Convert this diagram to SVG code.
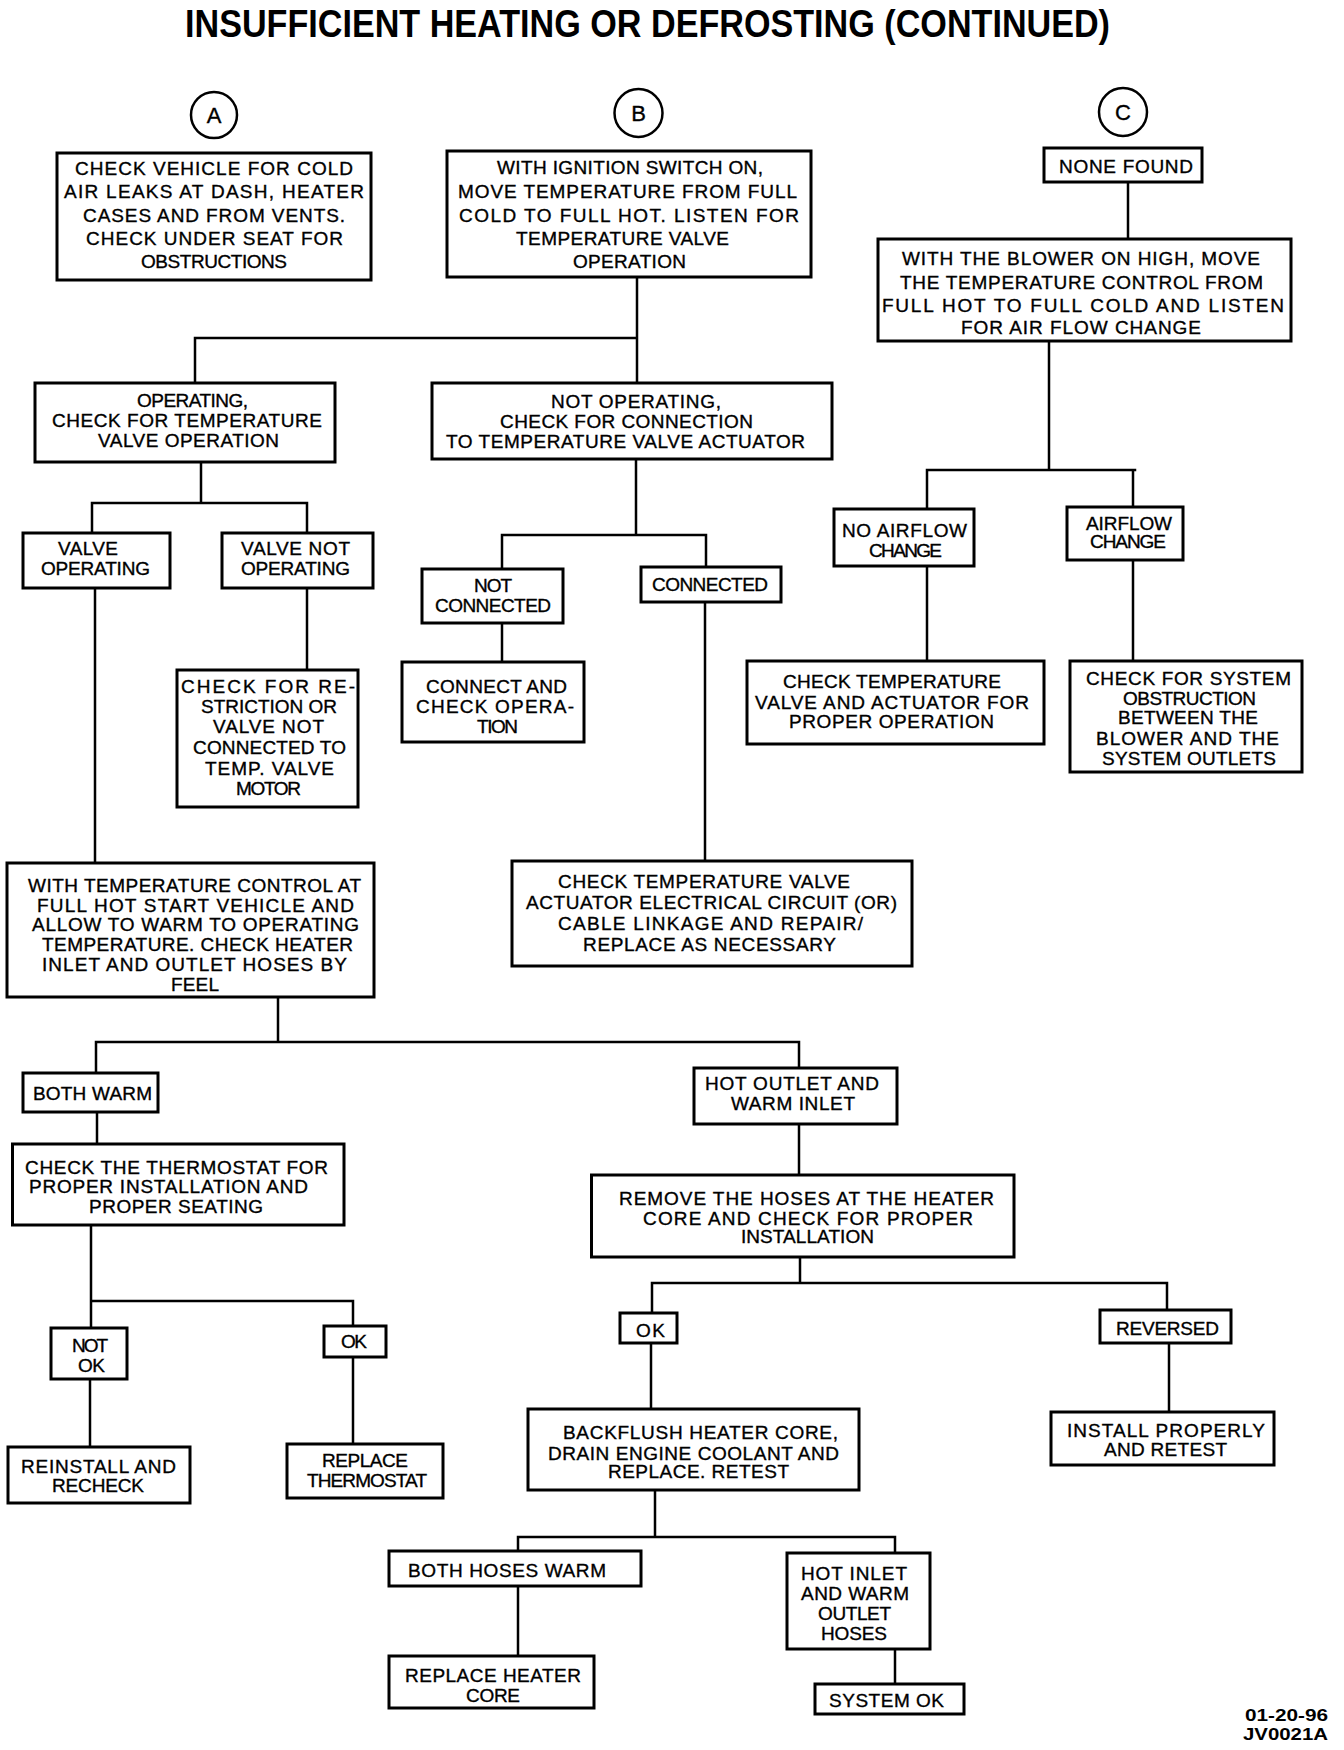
<svg xmlns="http://www.w3.org/2000/svg" width="1344" height="1750" viewBox="0 0 1344 1750">
<style>
.b{fill:#fff;stroke:#000;stroke-width:3}
.c{fill:#fff;stroke:#000;stroke-width:2.5}
.k{fill:none;stroke:#000;stroke-width:2.5;stroke-linecap:square}
text{font-family:"Liberation Sans",Arial,sans-serif;font-size:19px;fill:#000;stroke:#000;stroke-width:0.35;text-anchor:middle}
.ttl{font-weight:bold;font-size:38px;stroke:none}
.ft{font-weight:bold;font-size:16px;text-anchor:start;stroke:none}
.lt{font-size:22px}
</style>
<rect width="1344" height="1750" fill="#fff"/>
<text class="ttl" x="647.5" y="37" textLength="925" lengthAdjust="spacingAndGlyphs">INSUFFICIENT HEATING OR DEFROSTING (CONTINUED)</text>

<g id="connectors">
<path class="k" d="M637 277V383M195 338H637M195 338V383"/>
<path class="k" d="M1128 182V239"/>
<path class="k" d="M1049 341V470M927 470H1135M927 470V509M1133 470V507"/>
<path class="k" d="M201 462V503M92 503H307M92 503V533M307 503V533"/>
<path class="k" d="M307 588V670"/>
<path class="k" d="M95 588V863"/>
<path class="k" d="M636 459V535M502 535H706M502 535V569M706 535V567"/>
<path class="k" d="M502 623V662"/>
<path class="k" d="M705 602V861"/>
<path class="k" d="M927 566V661M1133 560V661"/>
<path class="k" d="M278 997V1042M96 1042H799M96 1042V1073M799 1042V1068"/>
<path class="k" d="M97 1112V1144"/>
<path class="k" d="M91 1225V1328M91 1301H353M353 1301V1326"/>
<path class="k" d="M90 1379V1447"/>
<path class="k" d="M353 1357V1444"/>
<path class="k" d="M799 1124V1175"/>
<path class="k" d="M800 1257V1283M652 1283H1167M652 1283V1313M1167 1283V1310"/>
<path class="k" d="M651 1343V1409"/>
<path class="k" d="M1169 1343V1412"/>
<path class="k" d="M655 1490V1537M518 1537H895M518 1537V1551M895 1537V1553"/>
<path class="k" d="M518 1586V1656"/>
<path class="k" d="M895 1649V1684"/>
</g>

<g id="circleA"><circle class="c" cx="214" cy="115" r="23"/><text class="lt" x="214" y="123">A</text></g>
<g id="circleB"><circle class="c" cx="638.5" cy="113" r="24"/><text class="lt" x="638.5" y="121">B</text></g>
<g id="circleC"><circle class="c" cx="1123" cy="112" r="24"/><text class="lt" x="1123" y="120">C</text></g>

<g id="boxA"><rect class="b" x="57" y="153" width="314" height="127"/>
<text x="214" y="175" textLength="278">CHECK VEHICLE FOR COLD</text>
<text x="214" y="198" textLength="300">AIR LEAKS AT DASH, HEATER</text>
<text x="214" y="222" textLength="262">CASES AND FROM VENTS.</text>
<text x="214.5" y="245" textLength="257">CHECK UNDER SEAT FOR</text>
<text x="214" y="268" textLength="146">OBSTRUCTIONS</text></g>

<g id="boxB"><rect class="b" x="447" y="151" width="364" height="126"/>
<text x="630" y="174" textLength="266">WITH IGNITION SWITCH ON,</text>
<text x="627.5" y="198" textLength="339">MOVE TEMPERATURE FROM FULL</text>
<text x="629" y="222" textLength="340">COLD TO FULL HOT. LISTEN FOR</text>
<text x="622.5" y="245" textLength="213">TEMPERATURE VALVE</text>
<text x="629.5" y="268" textLength="113">OPERATION</text></g>

<g id="noneFound"><rect class="b" x="1044" y="148" width="158" height="34"/>
<text x="1126" y="173" textLength="134">NONE FOUND</text></g>

<g id="boxC"><rect class="b" x="878" y="239" width="413" height="102"/>
<text x="1081" y="265" textLength="358">WITH THE BLOWER ON HIGH, MOVE</text>
<text x="1081.5" y="289" textLength="363">THE TEMPERATURE CONTROL FROM</text>
<text x="1083" y="312" textLength="402">FULL HOT TO FULL COLD AND LISTEN</text>
<text x="1081" y="334" textLength="240">FOR AIR FLOW CHANGE</text></g>

<g id="operating"><rect class="b" x="35" y="383" width="300" height="79"/>
<text x="192.5" y="407" textLength="111">OPERATING,</text>
<text x="187" y="427" textLength="270">CHECK FOR TEMPERATURE</text>
<text x="188.5" y="447" textLength="181">VALVE OPERATION</text></g>

<g id="notOperating"><rect class="b" x="432" y="383" width="400" height="76"/>
<text x="636" y="408" textLength="170">NOT OPERATING,</text>
<text x="626.5" y="428" textLength="253">CHECK FOR CONNECTION</text>
<text x="625.5" y="448" textLength="359">TO TEMPERATURE VALVE ACTUATOR</text></g>

<g id="valveOperating"><rect class="b" x="23" y="533" width="147" height="55"/>
<text x="88" y="555" textLength="60">VALVE</text>
<text x="95.5" y="575" textLength="109">OPERATING</text></g>

<g id="valveNotOperating"><rect class="b" x="222" y="533" width="151" height="55"/>
<text x="295.5" y="555" textLength="109">VALVE NOT</text>
<text x="295.5" y="575" textLength="109">OPERATING</text></g>

<g id="checkRestriction"><rect class="b" x="177" y="670" width="181" height="137"/>
<text x="268" y="693" textLength="174">CHECK FOR RE-</text>
<text x="269" y="713" textLength="136">STRICTION OR</text>
<text x="268.5" y="733" textLength="111">VALVE NOT</text>
<text x="269.5" y="754" textLength="153">CONNECTED TO</text>
<text x="269.5" y="775" textLength="129">TEMP. VALVE</text>
<text x="268.5" y="795" textLength="65">MOTOR</text></g>

<g id="notConnected"><rect class="b" x="422" y="569" width="141" height="54"/>
<text x="493" y="592" textLength="38">NOT</text>
<text x="493" y="612" textLength="116">CONNECTED</text></g>

<g id="connected"><rect class="b" x="641" y="567" width="140" height="35"/>
<text x="710" y="591" textLength="116">CONNECTED</text></g>

<g id="connectCheck"><rect class="b" x="402" y="662" width="182" height="80"/>
<text x="496.5" y="693" textLength="141">CONNECT AND</text>
<text x="495" y="713" textLength="158">CHECK OPERA-</text>
<text x="497.5" y="733" textLength="41">TION</text></g>

<g id="noAirflow"><rect class="b" x="834" y="509" width="140" height="57"/>
<text x="904.5" y="537" textLength="125">NO AIRFLOW</text>
<text x="905.5" y="557" textLength="73">CHANGE</text></g>

<g id="airflow"><rect class="b" x="1067" y="507" width="116" height="53"/>
<text x="1129" y="530" textLength="86">AIRFLOW</text>
<text x="1128" y="548" textLength="76">CHANGE</text></g>

<g id="checkValveActuator"><rect class="b" x="747" y="661" width="297" height="83"/>
<text x="892" y="688" textLength="218">CHECK TEMPERATURE</text>
<text x="892" y="709" textLength="274">VALVE AND ACTUATOR FOR</text>
<text x="891.5" y="728" textLength="205">PROPER OPERATION</text></g>

<g id="checkSystem"><rect class="b" x="1070" y="661" width="232" height="111"/>
<text x="1188.5" y="685" textLength="205">CHECK FOR SYSTEM</text>
<text x="1189.5" y="705" textLength="133">OBSTRUCTION</text>
<text x="1188" y="724" textLength="140">BETWEEN THE</text>
<text x="1187.5" y="745" textLength="183">BLOWER AND THE</text>
<text x="1189" y="765" textLength="174">SYSTEM OUTLETS</text></g>

<g id="withTempControl"><rect class="b" x="7" y="863" width="367" height="134"/>
<text x="194.5" y="892" textLength="333">WITH TEMPERATURE CONTROL AT</text>
<text x="195.5" y="912" textLength="317">FULL HOT START VEHICLE AND</text>
<text x="195.5" y="931" textLength="327">ALLOW TO WARM TO OPERATING</text>
<text x="197.5" y="951" textLength="311">TEMPERATURE. CHECK HEATER</text>
<text x="194.5" y="971" textLength="305">INLET AND OUTLET HOSES BY</text>
<text x="195" y="991" textLength="48">FEEL</text></g>

<g id="checkCircuit"><rect class="b" x="512" y="861" width="400" height="105"/>
<text x="704" y="888" textLength="292">CHECK TEMPERATURE VALVE</text>
<text x="711.5" y="909" textLength="371">ACTUATOR ELECTRICAL CIRCUIT (OR)</text>
<text x="710.5" y="930" textLength="305">CABLE LINKAGE AND REPAIR/</text>
<text x="709.5" y="951" textLength="253">REPLACE AS NECESSARY</text></g>

<g id="bothWarm"><rect class="b" x="23" y="1073" width="135" height="39"/>
<text x="92.5" y="1100" textLength="119">BOTH WARM</text></g>

<g id="hotOutlet"><rect class="b" x="694" y="1068" width="203" height="56"/>
<text x="792" y="1090" textLength="174">HOT OUTLET AND</text>
<text x="793" y="1110" textLength="124">WARM INLET</text></g>

<g id="checkThermostat"><rect class="b" x="12.5" y="1144" width="331.5" height="81"/>
<text x="176.5" y="1174" textLength="303">CHECK THE THERMOSTAT FOR</text>
<text x="168.5" y="1193" textLength="279">PROPER INSTALLATION AND</text>
<text x="176" y="1213" textLength="174">PROPER SEATING</text></g>

<g id="removeHoses"><rect class="b" x="591.5" y="1175" width="422.5" height="82"/>
<text x="806.5" y="1205" textLength="375">REMOVE THE HOSES AT THE HEATER</text>
<text x="808" y="1225" textLength="330">CORE AND CHECK FOR PROPER</text>
<text x="807.5" y="1243" textLength="133">INSTALLATION</text></g>

<g id="notOk"><rect class="b" x="51" y="1328" width="76" height="51"/>
<text x="90" y="1352" textLength="36">NOT</text>
<text x="91.5" y="1372" textLength="27">OK</text></g>

<g id="okThermostat"><rect class="b" x="324" y="1326" width="62" height="31"/>
<text x="354" y="1348" textLength="26">OK</text></g>

<g id="okInstall"><rect class="b" x="620" y="1313" width="57" height="30"/>
<text x="650.5" y="1337" textLength="29">OK</text></g>

<g id="reversed"><rect class="b" x="1100" y="1310" width="131" height="33"/>
<text x="1167.5" y="1335" textLength="103">REVERSED</text></g>

<g id="reinstall"><rect class="b" x="8" y="1447" width="182" height="56"/>
<text x="98.5" y="1473" textLength="155">REINSTALL AND</text>
<text x="98" y="1492" textLength="92">RECHECK</text></g>

<g id="replaceThermostat"><rect class="b" x="287" y="1444" width="156" height="54"/>
<text x="365" y="1467" textLength="86">REPLACE</text>
<text x="367" y="1487" textLength="120">THERMOSTAT</text></g>

<g id="backflush"><rect class="b" x="528" y="1409" width="331" height="81"/>
<text x="700.5" y="1439" textLength="275">BACKFLUSH HEATER CORE,</text>
<text x="693.5" y="1460" textLength="291">DRAIN ENGINE COOLANT AND</text>
<text x="698.5" y="1478" textLength="181">REPLACE. RETEST</text></g>

<g id="installProperly"><rect class="b" x="1051" y="1412" width="223" height="53"/>
<text x="1166" y="1437" textLength="198">INSTALL PROPERLY</text>
<text x="1165.5" y="1456" textLength="123">AND RETEST</text></g>

<g id="bothHosesWarm"><rect class="b" x="389" y="1551" width="252" height="35"/>
<text x="507" y="1577" textLength="198">BOTH HOSES WARM</text></g>

<g id="hotInlet"><rect class="b" x="787" y="1553" width="143" height="96"/>
<text x="854" y="1580" textLength="106">HOT INLET</text>
<text x="855" y="1600" textLength="108">AND WARM</text>
<text x="854.5" y="1620" textLength="73">OUTLET</text>
<text x="854" y="1640" textLength="66">HOSES</text></g>

<g id="replaceCore"><rect class="b" x="389" y="1656" width="205" height="52"/>
<text x="493" y="1682" textLength="176">REPLACE HEATER</text>
<text x="493" y="1702" textLength="54">CORE</text></g>

<g id="systemOk"><rect class="b" x="815" y="1684" width="149" height="30"/>
<text x="886.5" y="1707" textLength="115">SYSTEM OK</text></g>

<text class="ft" x="1245" y="1721" textLength="83" lengthAdjust="spacingAndGlyphs">01-20-96</text>
<text class="ft" x="1243" y="1740" textLength="85" lengthAdjust="spacingAndGlyphs">JV0021A</text>
</svg>
